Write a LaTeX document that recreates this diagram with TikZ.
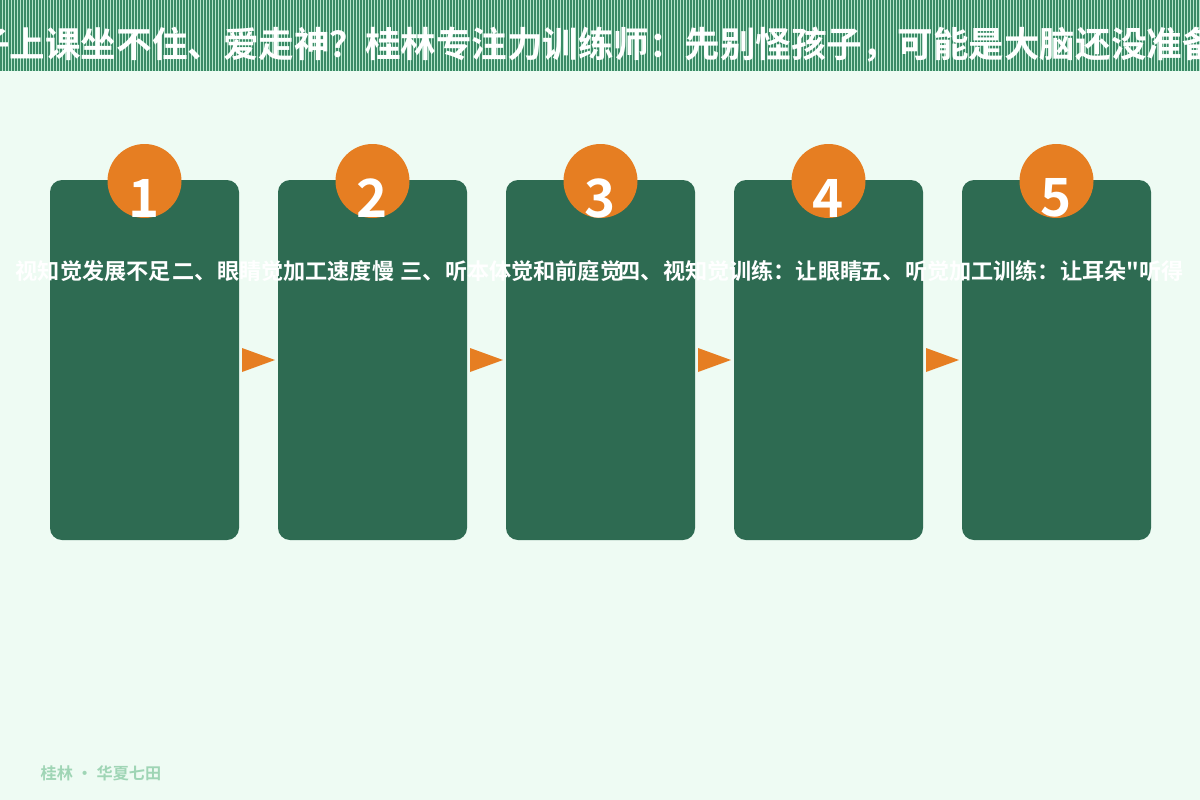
\documentclass[tikz,border=0pt]{standalone}
\usepackage{fontspec}
\setmainfont{Noto Sans CJK SC}
\newfontfamily\cjk{Noto Sans CJK SC Bold}
\definecolor{bg}{HTML}{EEFBF3}
\definecolor{card}{HTML}{2E6B52}
\definecolor{org}{HTML}{E67E22}
\definecolor{stripeA}{HTML}{3A8A66}
\definecolor{stripeB}{HTML}{B6E6CC}
\definecolor{foot}{HTML}{9FD5B5}
\tikzset{
 card/.style={fill=card,rounded corners=12*0.01cm},
 num/.style={circle,fill=org,minimum size=74*0.01cm,inner sep=0pt},
 numtxt/.style={text=white,font=\cjk\fontsize{15pt}{15pt}\selectfont,inner sep=0pt},
 lab/.style={anchor=west,inner sep=0pt,text=white,font=\cjk\fontsize{6.3pt}{7pt}\selectfont},
 arr/.style={fill=org},
}
\begin{document}
\begin{tikzpicture}[x=0.01cm,y=-0.01cm]
\useasboundingbox (0,0) rectangle (1200,800);
\fill[bg] (0,0) rectangle (1200,800);
\begin{scope}
\clip (0,0) rectangle (1200,71);
\fill[stripeB] (0,0) rectangle (1200,71);
\foreach \i in {0,3,...,1200}{\fill[stripeA] (\i,0) rectangle (\i+1.6,71);}
\node[text=white,font=\cjk\fontsize{10.1pt}{11pt}\selectfont,inner sep=0pt] (title) at (596,45) {孩子上课坐不住、爱走神？桂林专注力训练师：先别怪孩子，可能是大脑还没准备好};
\end{scope}
\foreach \n/\x in {1/50,2/278,3/506,4/734,5/962}{
  \fill[card] (\x,180) rectangle (\x+189,540);
  \node[num] (c\n) at (\x+94.5,181) {};
  \node[numtxt] (n\n) at (\x+94.5,198) {\n};
}
\foreach \x in {242,470,698,926}{
  \fill[arr] (\x,348) -- (\x+33,360) -- (\x,372) -- cycle;
}
\begin{scope}
\clip (0,0) rectangle (1200,800);
\node[lab] (t1) at (15,271) {视知觉发展不足};
\node[lab] (t2) at (172,271) {二、眼睛觉加工速度慢};
\node[lab] (t3) at (400,271) {三、听本体觉和前庭觉};
\node[lab] (t4) at (618,271) {四、视知觉训练：让眼睛};
\node[lab] (t5) at (860,271) {五、听觉加工训练：让耳朵"听得};
\end{scope}
\node[anchor=west,inner sep=0pt,text=foot,font=\cjk\fontsize{4.6pt}{5pt}\selectfont] (foot) at (40,773) {桂林 · 华夏七田};
\end{tikzpicture}
\end{document}
